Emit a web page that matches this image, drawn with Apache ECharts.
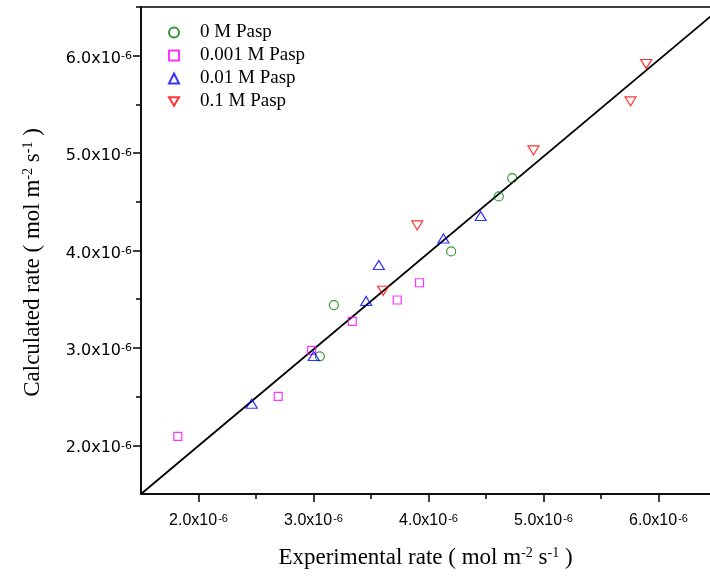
<!DOCTYPE html>
<html>
<head>
<meta charset="utf-8">
<script src="https://cdn.jsdelivr.net/npm/echarts@6/dist/echarts.min.js"></script>
<style>
  html, body { margin: 0; padding: 0; background: #fff; }
  #main { width: 710px; height: 581px; }
</style>
</head>
<body>
<div id="main"></div>
<script>
// rates are in units of 1e-6 mol m-2 s-1
const seriesNames = ['0 M Pasp', '0.001 M Pasp', '0.01 M Pasp', '0.1 M Pasp'];

const pasp0Exp = [3.055, 3.177, 4.197, 4.611, 4.728];
const pasp0Calc = [2.913, 3.440, 3.991, 4.555, 4.744];

const pasp001Exp = [1.820, 2.693, 2.984, 3.337, 3.728, 3.922];
const pasp001Calc = [2.091, 2.502, 2.974, 3.272, 3.492, 3.669];

const pasp01Exp = [2.463, 3.002, 3.458, 3.568, 4.130, 4.454];
const pasp01Calc = [2.427, 2.917, 3.481, 3.851, 4.124, 4.354];

const pasp1Exp = [3.606, 3.902, 4.913, 5.757, 5.893];
const pasp1Calc = [3.587, 4.258, 5.028, 5.531, 5.915];

// reference line
const lineExp = [1.5, 6.5];
const lineCalc = [1.5, 6.45];

const majorTicks = [2, 3, 4, 5, 6];
const minorTicks = [2.5, 3.5, 4.5, 5.5, 6.5];

const zip = (xs, ys) => xs.map((x, i) => [x, ys[i]]);

const colors = ['#008000', '#ff00ff', '#0000ff', '#ff0000'];
const symbols = ['circle', 'rect', 'triangle', 'path://M0,0 L10,0 L5,8.5 Z'];
const sizes = [9, 8, [11, 9], [11, 9]];
const dataSets = [
  zip(pasp0Exp, pasp0Calc),
  zip(pasp001Exp, pasp001Calc),
  zip(pasp01Exp, pasp01Calc),
  zip(pasp1Exp, pasp1Calc)
];

const tickLabel = v => '{b|' + v.toFixed(1) + 'x10}{s|-6}';
const xLabelRich = {
  b: { fontFamily: 'Liberation Sans', fontSize: 16, color: '#000' },
  s: { fontFamily: 'Liberation Sans', fontSize: 11, color: '#000', verticalAlign: 'top', padding: [0, 0, 0, 1] }
};
const yLabelRich = {
  b: { fontFamily: 'DejaVu Sans', fontSize: 16, color: '#000' },
  s: { fontFamily: 'DejaVu Sans', fontSize: 11, color: '#000', verticalAlign: 'top' }
};
const nameRich = {
  n: { fontFamily: 'Liberation Serif', fontSize: 23, color: '#000' },
  s: { fontFamily: 'Liberation Serif', fontSize: 14, color: '#000', verticalAlign: 'top' }
};
const unitName = pre => '{n|' + pre + ' ( mol m}{s|-2}{n| s}{s|-1}{n| )}';

function mainAxis(extra) {
  return Object.assign({
    type: 'value',
    min: 1.5,
    max: 6.5,
    axisLine: { show: true, lineStyle: { color: '#000', width: 1.5 } },
    axisTick: { show: true, customValues: majorTicks, length: 8, lineStyle: { color: '#000', width: 1.5 } },
    splitLine: { show: false }
  }, extra);
}
function minorAxis(pos) {
  return {
    type: 'value',
    position: pos,
    min: 1.5,
    max: 6.5,
    axisLine: { show: false },
    axisTick: { show: true, customValues: minorTicks, length: 5, lineStyle: { color: '#000', width: 1.5 } },
    axisLabel: { show: false },
    splitLine: { show: false }
  };
}

const chart = echarts.init(document.getElementById('main'), null, { renderer: 'canvas' });

const series = seriesNames.map((name, i) => ({
  name: name,
  type: 'scatter',
  symbol: symbols[i],
  symbolSize: sizes[i],
  itemStyle: { color: 'rgba(0,0,0,0)', borderColor: colors[i], borderWidth: 1.2 },
  data: dataSets[i],
  z: 3
}));
series.push({
  name: 'fit',
  type: 'line',
  data: zip(lineExp, lineCalc),
  showSymbol: false,
  symbol: 'none',
  lineStyle: { color: '#000', width: 1.8 },
  silent: true,
  z: 2
});

chart.setOption({
  animation: false,
  backgroundColor: '#fff',
  grid: {
    left: 141, top: 7, width: 575, bottom: 87,
    outerBoundsMode: 'none',
    containLabel: false,
    show: true, borderColor: '#000', borderWidth: 1.5, backgroundColor: 'transparent'
  },
  legend: {
    data: seriesNames,
    orient: 'vertical',
    left: 163,
    top: 16,
    itemWidth: 10,
    itemHeight: 10,
    itemGap: 0,
    textStyle: {
      fontFamily: 'Liberation Serif', fontSize: 19, color: '#000',
      lineHeight: 23, padding: [0, 0, 0, 16]
    }
  },
  xAxis: [
    mainAxis({
      position: 'bottom',
      name: unitName('Experimental rate'),
      nameLocation: 'middle',
      nameGap: 52,
      nameTextStyle: { rich: nameRich, padding: [0, 6, 0, 0] },
      axisLabel: { customValues: majorTicks, formatter: tickLabel, rich: xLabelRich, margin: 19 }
    }),
    minorAxis('bottom')
  ],
  yAxis: [
    mainAxis({
      position: 'left',
      name: unitName('Calculated rate'),
      nameLocation: 'middle',
      nameRotate: 90,
      nameGap: 97,
      nameTextStyle: { rich: nameRich, padding: [0, 24, 0, 0] },
      axisLabel: { customValues: majorTicks, formatter: tickLabel, rich: yLabelRich, margin: 9, padding: [6, 0, 0, 0] }
    }),
    minorAxis('left')
  ],
  series: series
});
</script>
</body>
</html>
